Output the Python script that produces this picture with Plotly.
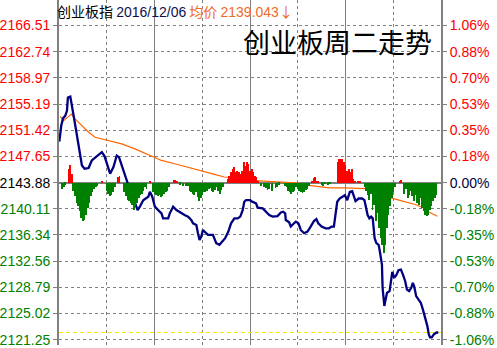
import plotly.graph_objects as go

# ---------------- data ----------------
base_price = 2143.88
avg_label = "2139.043"
date_label = "2016/12/06"
index_name = "创业板指"
big_title = "创业板周二走势"

left_ticks = [2166.51, 2162.74, 2158.97, 2155.19, 2151.42, 2147.65, 2143.88,
              2140.11, 2136.34, 2132.56, 2128.79, 2125.02, 2121.25]
right_labels = ["1.06%", "0.88%", "0.70%", "0.53%", "0.35%", "0.18%", "0.00%",
                "-0.18%", "-0.35%", "-0.53%", "-0.70%", "-0.88%", "-1.06%"]

# price line (minute index from 9:30, 240 minutes in the session)
price_t = [0.2, 1.4, 2.5, 3.9, 5.0, 5.6, 7.1, 8.1, 9.2, 10.6, 12.3, 14.4, 16.1, 18.6, 20.6,
           23.8, 26.9, 28.6, 30.0, 32.1, 34.2, 36.3, 37.7, 39.4, 41.4, 43.6, 45.6, 47.7,
           49.4, 50.8, 52.9, 56.1, 57.1, 58.6, 60.2, 62.3, 64.4, 65.4, 68.6, 69.6, 71.7,
           73.8, 76.9, 78.9, 81.1, 83.1, 84.2, 86.3, 87.3, 88.3, 89.4, 90.4, 91.4, 93.6,
           96.7, 98.8, 100.8, 102.9, 104.4, 106.4, 108.1, 110.2, 112.3, 113.9, 115.4,
           116.4, 117.5, 120.2, 120.6, 123.8, 124.8, 128.0, 130.0, 132.1, 134.2, 137.3,
           139.4, 140.8, 142.1, 142.5, 144.6, 145.6, 147.7, 148.8, 150.4, 151.9, 154.0,
           156.1, 158.1, 160.2, 161.7, 162.9, 165.0, 167.5, 169.6, 171.3, 172.7, 173.8,
           174.8, 176.3, 177.9, 179.6, 181.1, 182.7, 184.2, 185.2, 186.3, 188.3, 190.4,
           191.9, 193.1, 193.9, 195.0, 196.1, 197.1, 197.7, 198.3, 199.4, 200.8, 201.4,
           202.3, 202.9, 203.3, 203.9, 204.4, 205.0, 206.1, 207.7, 208.6, 209.4, 210.6,
           211.9, 213.3, 214.8, 216.1, 217.5, 218.6, 220.0, 221.3, 222.3, 223.1, 224.4,
           225.8, 227.3, 228.6, 230.0, 231.4, 232.3, 233.1, 234.2, 235.6, 237.3, 238.3]
price_v = [2149.78, 2152.07, 2153.13, 2153.50, 2154.22, 2156.13, 2156.27, 2155.17, 2153.50,
           2151.60, 2149.21, 2146.35, 2145.88, 2145.98, 2147.07, 2147.70, 2148.27, 2147.70,
           2146.60, 2145.17, 2146.12, 2147.78, 2147.55, 2146.35, 2144.92, 2143.49, 2142.31,
           2141.12, 2139.92, 2140.41, 2141.35, 2141.84, 2142.55, 2141.84, 2140.45, 2139.92,
           2139.45, 2138.73, 2138.73, 2139.45, 2140.41, 2139.92, 2139.45, 2139.21, 2138.98,
           2138.49, 2138.02, 2137.78, 2136.59, 2135.63, 2136.12, 2137.06, 2136.83, 2136.35,
           2136.35, 2135.16, 2134.92, 2135.40, 2135.87, 2136.83, 2138.02, 2138.73, 2138.73,
           2138.98, 2139.92, 2141.12, 2141.35, 2141.35, 2141.21, 2140.88, 2140.26, 2140.16,
           2139.69, 2139.21, 2138.98, 2139.06, 2139.59, 2139.69, 2139.45, 2138.49, 2138.16,
           2137.55, 2138.02, 2138.26, 2138.02, 2137.06, 2136.59, 2136.83, 2137.55, 2138.35,
           2138.63, 2138.02, 2137.55, 2137.30, 2137.30, 2137.55, 2137.55, 2139.45, 2141.12,
           2141.59, 2141.84, 2142.06, 2141.35, 2142.55, 2142.64, 2142.06, 2141.21, 2141.59,
           2141.59, 2141.35, 2140.16, 2139.21, 2138.73, 2138.98, 2138.73, 2137.55, 2135.87,
           2135.16, 2134.92, 2134.20, 2133.02, 2132.06, 2128.73, 2127.05, 2126.11, 2126.82,
           2128.01, 2128.25, 2130.16, 2131.01, 2130.16, 2130.54, 2131.26, 2131.34, 2130.63,
           2129.68, 2128.48, 2128.25, 2128.73, 2129.44, 2128.97, 2127.54, 2127.05, 2126.58,
           2125.62, 2124.44, 2123.25, 2122.05, 2121.58, 2121.58, 2122.05, 2122.29, 2122.29]

# average price line
avg_t = [0.8, 2.9, 6.1, 7.7, 10.2, 14.4, 18.6, 22.7, 31.1, 39.4, 47.7, 56.1, 64.4, 72.7,
         81.1, 89.4, 97.7, 103.9, 110.2, 119.6, 126.9, 138.3, 148.8, 157.1, 163.3, 169.6,
         180.0, 192.5, 197.7, 203.9, 208.1, 211.3, 216.4, 223.8, 228.9, 232.1, 235.2, 237.7]
avg_v = [2153.42, 2152.79, 2153.42, 2153.74, 2153.03, 2152.07, 2151.13, 2150.41, 2149.93,
         2149.46, 2148.74, 2147.88, 2147.07, 2146.60, 2146.12, 2145.55, 2145.07, 2144.69,
         2144.55, 2144.21, 2144.12, 2143.98, 2143.84, 2143.49, 2143.27, 2143.12, 2143.12,
         2143.02, 2142.64, 2142.06, 2141.69, 2141.49, 2141.21, 2140.73, 2140.26, 2139.69,
         2139.31, 2139.04]

# red / green indicator bars (own scale)
bar_t = [2, 3, 4, 6, 7, 8,
         9, 10, 11, 12, 13, 14, 15, 16, 17, 18, 19, 20, 21, 22, 23, 24,
         27, 30, 31, 32, 33, 34, 35, 37, 38,
         41, 42, 43, 44, 45, 46, 47, 48, 49, 50, 51, 52, 53, 54, 55, 57,
         59, 60, 61, 62, 63, 64, 65, 66, 67, 68, 69, 72, 73, 74, 76, 78, 80,
         81, 82, 83, 84, 85, 86, 87, 88, 89, 90, 91, 92, 93, 94, 95, 96, 97, 98, 99, 100,
         101, 102, 103,
         106, 107, 108, 109, 110, 111, 112, 113, 114, 115, 116, 117, 118, 119, 120, 121,
         122, 123, 124, 125,
         127, 129, 130, 131, 132, 134, 136, 137, 138,
         142, 143, 144, 145, 146, 147, 148, 149, 150, 151, 152, 153, 154, 155, 156, 157,
         159, 160, 161, 162, 163, 165, 166, 167, 169, 170,
         175, 176, 177, 178, 179, 180, 181, 182, 183, 184, 185, 186, 188, 189,
         192, 193, 194, 195, 196, 197, 198, 199, 200, 201, 202, 203, 204, 205, 206, 207,
         208, 209, 210, 211, 214, 215,
         217, 218, 219, 220, 221, 222, 223, 224, 225, 226, 227, 228, 229, 230, 231, 232,
         233, 234, 235, 236, 237]
bar_v = [-6, -4, -2, 14, 18, 9,
         -8, -14, -21, -24, -29, -36, -39, -38, -33, -26, -21, -14, -9, -6, -4, -3,
         2, -8, -11, -14, -13, -9, -4, 6, 7,
         -9, -14, -18, -19, -21, -23, -28, -24, -21, -16, -13, -11, -8, -4, -6, 2,
         -9, -11, -13, -14, -13, -15, -14, -11, -9, -8, -4, 3, 3, 2, -2, -3, -3,
         -3, -8, -9, -11, -12, -9, -15, -19, -16, -13, -9, -9, -8, -6, -5, -8, -9, -7, -4, -8,
         -11, -7, -4,
         4, 7, 11, 14, 16, 11, 12, 11, 9, 12, 21, 17, 21, 19, 12, 14,
         11, 7, 6, 2,
         -3, -4, -5, -7, -6, -8, -5, -4, -2,
         -3, -4, -8, -9, -11, -9, -8, -4, -6, -8, -9, -10, -9, -7, -6, -3,
         2, 5, 6, 2, 1, -2, -3, -1, -2, -1,
         21, 24, 24, 24, 21, 18, 12, 14, 11, 14, 4, 2, 1, 1,
         -4, -8, -13, -18, -11, -28, -23, -39, -31, -46, -56, -63, -71, -63, -46, -33,
         -24, -16, -9, -4, 2, 3,
         -11, -6, -16, -13, -8, -14, -19, -13, -21, -23, -16, -26, -29, -33, -34, -33,
         -28, -24, -19, -16, -13]

# ---------------- styling ----------------
RED = "#FF0000"
GREEN = "#008000"
GRAY = "#808080"
ORANGE = "#FF6600"
NAVY = "#000080"

y_lo, y_hi = 2120.49, 2170.18
W, H = 497, 348
plot_h = H
px_per_pt = plot_h / (y_hi - y_lo)
base_px_from_top = (y_hi - base_price) * px_per_pt
bar_range = [-(plot_h - base_px_from_top), base_px_from_top]


def colored(v, txt):
    if v > base_price + 1e-6:
        c = RED
    elif v < base_price - 1e-6:
        c = GREEN
    else:
        c = "#000000"
    return f'<span style="color:{c}">{txt}</span>'


left_text = [colored(v, f"{v:.2f}") for v in left_ticks]
right_text = []
for v, lab in zip(left_ticks, right_labels):
    if abs(v - base_price) < 1e-6:
        right_text.append(f'<span style="color:#000040">{lab}</span>')
    else:
        right_text.append(colored(v, lab))

fig = go.Figure()

fig.add_trace(go.Bar(
    x=bar_t, y=bar_v, yaxis="y3", width=0.55,
    marker=dict(color=[RED if v > 0 else GREEN for v in bar_v], line=dict(width=0)),
    showlegend=False, hoverinfo="skip"))

fig.add_trace(go.Scatter(
    x=[0, 240], y=[price_v[-1], price_v[-1]], mode="lines",
    line=dict(color="#F5E600", width=1, dash="4px,3px"), showlegend=False, hoverinfo="skip"))

fig.add_trace(go.Scatter(
    x=avg_t, y=avg_v, mode="lines",
    line=dict(color=ORANGE, width=1.2), showlegend=False))

fig.add_trace(go.Scatter(
    x=price_t, y=price_v, mode="lines",
    line=dict(color=NAVY, width=2.3), showlegend=False))

fig.update_layout(
    width=W, height=H,
    margin=dict(l=57, r=56, t=0, b=0),
    paper_bgcolor="white", plot_bgcolor="white",
    font=dict(family="Liberation Sans, Arial", size=14),
    bargap=0,
    xaxis=dict(
        range=[0, 240], tickvals=[0, 60, 120, 180, 240], showticklabels=False,
        showgrid=True, gridcolor=GRAY, gridwidth=1, zeroline=False,
        showline=False, ticks="",
        minor=dict(tickvals=[30, 90, 150, 210], showgrid=True, gridcolor=GRAY,
                   griddash="dot", gridwidth=1, ticks=""),
    ),
    yaxis=dict(
        range=[y_lo, y_hi], tickvals=left_ticks, ticktext=left_text,
        showgrid=True, gridcolor=GRAY, griddash="dot", gridwidth=1,
        zeroline=False, showline=True, linecolor=GRAY, linewidth=2,
        ticks="outside", ticklen=4, tickcolor=GRAY, ticklabeloverflow="allow",
        tickfont=dict(size=14, family="Liberation Sans, Arial"),
    ),
    yaxis2=dict(
        range=[y_lo, y_hi], overlaying="y", side="right",
        tickvals=left_ticks, ticktext=right_text, showgrid=False,
        zeroline=False, showline=True, linecolor=GRAY, linewidth=2,
        ticks="outside", ticklen=4, tickcolor=GRAY, ticklabeloverflow="allow",
        tickfont=dict(size=14, family="Liberation Sans, Arial"),
    ),
    yaxis3=dict(
        range=bar_range, overlaying="y", visible=True, showticklabels=False,
        showgrid=False, zeroline=True, zerolinecolor=GRAY, zerolinewidth=2,
        showline=False, ticks="",
    ),
)

# dummy trace to activate the right axis
fig.add_trace(go.Scatter(x=[None], y=[None], yaxis="y2", showlegend=False, hoverinfo="skip"))

ARIAL = "Liberation Sans, Arial"
fig.add_annotation(
    xref="paper", yref="paper", x=0.0, y=1.0, xanchor="left", yanchor="top",
    xshift=-3, yshift=0, showarrow=False, borderpad=0,
    text=(f'<span style="font-size:14px">{index_name}</span> '
          f'<span style="color:#101050;font-family:{ARIAL}">{date_label}</span> '
          f'<span style="color:#F06A28">均价 <span style="font-family:{ARIAL}">{avg_label}</span>↓</span>'),
    font=dict(family="Noto Sans CJK SC, Liberation Sans", size=14, color="#000000"))

fig.add_annotation(
    xref="paper", yref="paper", x=(337 - 57) / 384, y=1 - 42 / 348,
    xanchor="center", yanchor="middle", showarrow=False, borderpad=0,
    text=big_title,
    font=dict(family="Noto Sans CJK SC", size=27, color="#000000"))

fig.write_html("out.html")
